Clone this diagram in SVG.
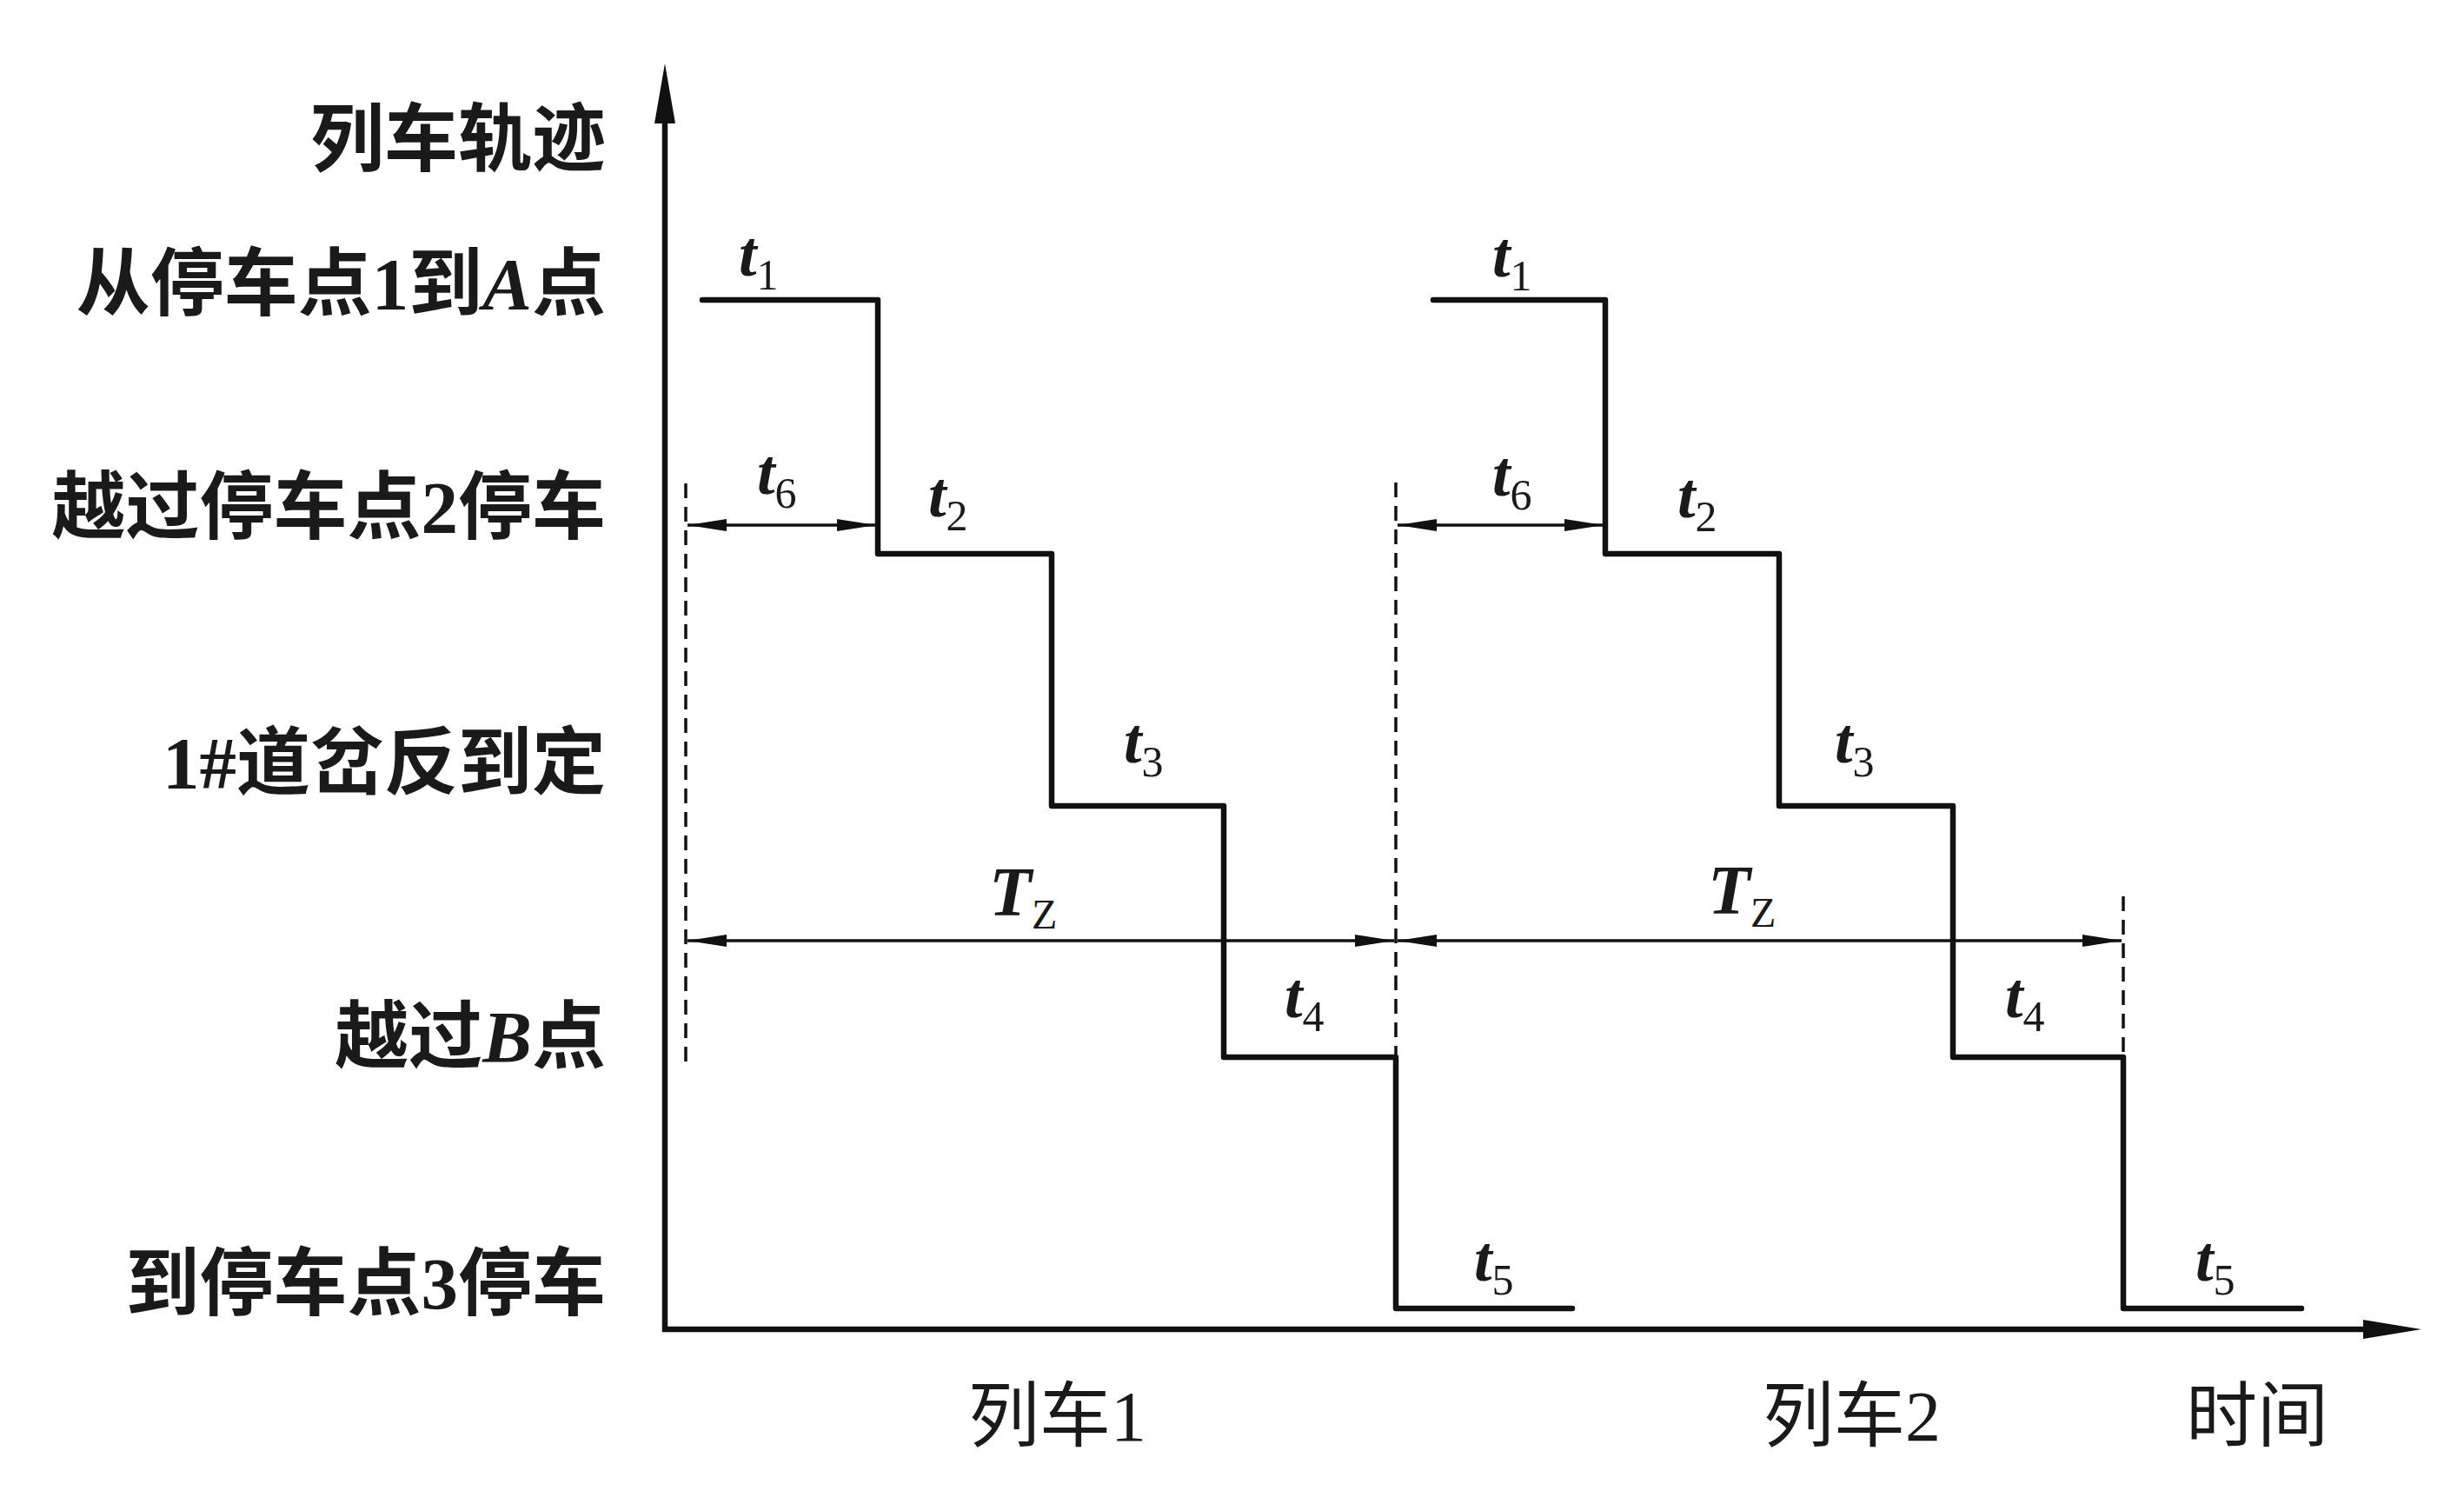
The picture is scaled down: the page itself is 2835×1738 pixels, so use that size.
<svg xmlns="http://www.w3.org/2000/svg" width="2835" height="1738" viewBox="0 0 2835 1738">
<style>
.bg{fill:#ffffff}
.axis{stroke:#111;stroke-width:6.5;fill:none;stroke-linecap:square}
.head{fill:#111}
.step{stroke:#111;stroke-width:6.5;fill:none;stroke-linecap:round;stroke-linejoin:round}
.dash{stroke:#111;stroke-width:3.5;fill:none;stroke-dasharray:17 10}
.dim{stroke:#111;stroke-width:3.5;fill:none;marker-start:url(#arr);marker-end:url(#arr)}
.cn{font-family:"Noto Sans CJK SC","Liberation Serif",serif;font-size:82px;fill:#1a1a1a}
.lbl{text-anchor:end;font-size:85px;font-weight:bold}
.lat{font-family:"Liberation Serif",serif;font-weight:bold}
.it{font-style:italic}
.t{font-family:"Liberation Serif",serif;font-style:italic;font-weight:bold;font-size:74px;fill:#1a1a1a}
.sub{font-style:normal;font-weight:normal;font-size:50px}
</style>
<defs>
<marker id="arr" viewBox="0 -8 46 16" markerWidth="46" markerHeight="16" refX="45" refY="0" orient="auto-start-reverse" markerUnits="userSpaceOnUse">
<path d="M0,-7 L45,0 L0,7 Z" fill="#111"/>
</marker>
</defs>
<rect class="bg" x="0" y="0" width="2835" height="1738"/>

<g id="axes">
<path class="axis" d="M765,135 V1529 H2725"/>
<polygon class="head" points="765,73 753,142 777,142"/>
<polygon class="head" points="2786,1529 2719,1518 2719,1540"/>
</g>

<g id="y-labels">
<text id="lbl-track" class="cn lbl" x="697" y="190">列车轨迹</text>
<text id="lbl-A" class="cn lbl" x="697" y="356">从停车点<tspan class="lat">1</tspan>到<tspan class="lat it">A</tspan>点</text>
<text id="lbl-stop2" class="cn lbl" x="697" y="613">越过停车点<tspan class="lat">2</tspan>停车</text>
<text id="lbl-switch" class="cn lbl" x="697" y="907"><tspan class="lat">1#</tspan>道岔反到定</text>
<text id="lbl-B" class="cn lbl" x="697" y="1222">越过<tspan class="lat it">B</tspan>点</text>
<text id="lbl-stop3" class="cn lbl" x="697" y="1506">到停车点<tspan class="lat">3</tspan>停车</text>
</g>

<g id="x-labels">
<text id="lbl-train1" class="cn" x="1114" y="1657">列车<tspan style="font-family:'Liberation Serif',serif">1</tspan></text>
<text id="lbl-train2" class="cn" x="2028" y="1657">列车<tspan style="font-family:'Liberation Serif',serif">2</tspan></text>
<text id="lbl-time" class="cn" x="2515" y="1657">时间</text>
</g>

<g id="train1">
<path class="step" d="M808,345 H1010 V637 H1210 V927 H1408 V1216 H1606 V1505 H1809"/>
<text class="t" x="850" y="317">t<tspan class="sub" dy="16">1</tspan></text>
<text class="t" x="1068" y="594">t<tspan class="sub" dy="16">2</tspan></text>
<text class="t" x="1293" y="877">t<tspan class="sub" dy="16">3</tspan></text>
<text class="t" x="1478" y="1170">t<tspan class="sub" dy="16">4</tspan></text>
<text class="t" x="1696" y="1473">t<tspan class="sub" dy="16">5</tspan></text>
<text class="t" x="871" y="568">t<tspan class="sub" dy="16">6</tspan></text>
<text class="t" x="1138" y="1053" style="font-size:80px">T<tspan class="sub" dy="15" style="font-size:48px">Z</tspan></text>
</g>

<g id="train2">
<path class="step" d="M1649,345 H1847 V637 H2047 V927 H2247 V1216 H2443 V1505 H2648"/>
<text class="t" x="1717" y="318">t<tspan class="sub" dy="16">1</tspan></text>
<text class="t" x="1930" y="595">t<tspan class="sub" dy="16">2</tspan></text>
<text class="t" x="2111" y="877">t<tspan class="sub" dy="16">3</tspan></text>
<text class="t" x="2307" y="1170">t<tspan class="sub" dy="16">4</tspan></text>
<text class="t" x="2526" y="1473">t<tspan class="sub" dy="16">5</tspan></text>
<text class="t" x="1717" y="570">t<tspan class="sub" dy="16">6</tspan></text>
<text class="t" x="1965" y="1051" style="font-size:80px">T<tspan class="sub" dy="15" style="font-size:48px">Z</tspan></text>
</g>

<g id="connectors">
<path class="dash" d="M789,556 V1226"/>
<path class="dash" d="M1606,555 V1216"/>
<path class="dash" d="M2443,1031 V1216"/>
<path class="dim" d="M791,604 H1008"/>
<path class="dim" d="M1608,604 H1845"/>
<path class="dim" d="M791,1082 H1604"/>
<path class="dim" d="M1608,1082 H2441"/>
</g>
</svg>
